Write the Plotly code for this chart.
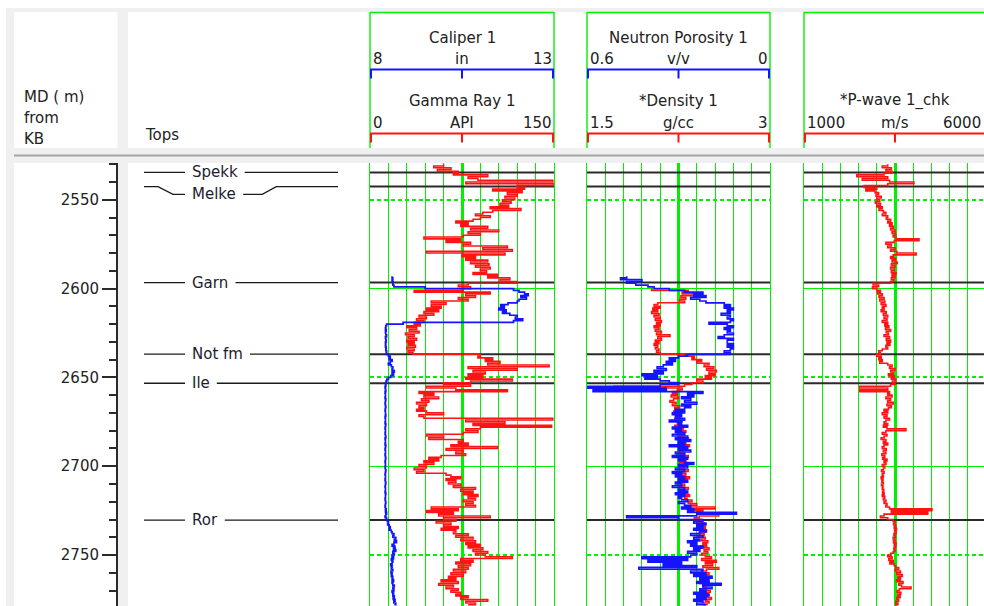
import plotly.graph_objects as go

# ---------------- data ----------------
depth_m = [
    2530, 2531, 2532, 2533, 2534, 2535, 2536, 2537, 2538, 2539,
    2540, 2541, 2542, 2543, 2544, 2545, 2546, 2547, 2548, 2549,
    2550, 2551, 2552, 2553, 2554, 2555, 2556, 2557, 2558, 2559,
    2560, 2561, 2562, 2563, 2564, 2565, 2566, 2567, 2568, 2569,
    2570, 2571, 2572, 2573, 2574, 2575, 2576, 2577, 2578, 2579,
    2580, 2581, 2582, 2583, 2584, 2585, 2586, 2587, 2588, 2589,
    2590, 2591, 2592, 2593, 2594, 2595, 2596, 2597, 2598, 2599,
    2600, 2601, 2602, 2603, 2604, 2605, 2606, 2607, 2608, 2609,
    2610, 2611, 2612, 2613, 2614, 2615, 2616, 2617, 2618, 2619,
    2620, 2621, 2622, 2623, 2624, 2625, 2626, 2627, 2628, 2629,
    2630, 2631, 2632, 2633, 2634, 2635, 2636, 2637, 2638, 2639,
    2640, 2641, 2642, 2643, 2644, 2645, 2646, 2647, 2648, 2649,
    2650, 2651, 2652, 2653, 2654, 2655, 2656, 2657, 2658, 2659,
    2660, 2661, 2662, 2663, 2664, 2665, 2666, 2667, 2668, 2669,
    2670, 2671, 2672, 2673, 2674, 2675, 2676, 2677, 2678, 2679,
    2680, 2681, 2682, 2683, 2684, 2685, 2686, 2687, 2688, 2689,
    2690, 2691, 2692, 2693, 2694, 2695, 2696, 2697, 2698, 2699,
    2700, 2701, 2702, 2703, 2704, 2705, 2706, 2707, 2708, 2709,
    2710, 2711, 2712, 2713, 2714, 2715, 2716, 2717, 2718, 2719,
    2720, 2721, 2722, 2723, 2724, 2725, 2726, 2727, 2728, 2729,
    2730, 2731, 2732, 2733, 2734, 2735, 2736, 2737, 2738, 2739,
    2740, 2741, 2742, 2743, 2744, 2745, 2746, 2747, 2748, 2749,
    2750, 2751, 2752, 2753, 2754, 2755, 2756, 2757, 2758, 2759,
    2760, 2761, 2762, 2763, 2764, 2765, 2766, 2767, 2768, 2769,
    2770, 2771, 2772, 2773, 2774, 2775, 2776, 2777, 2778,
]

gr_api = [
    60, 52, 66, 55, 72, 68, 96, 80, 88, 149,
    78, 150, 120, 126, 100, 124, 112, 120, 110, 118,
    108, 115, 106, 113, 98, 123, 100, 92, 86, 98,
    90, 84, 70, 80, 74, 96, 82, 105, 80, 90,
    76, 44, 74, 62, 82, 76, 112, 92, 116, 46,
    110, 75, 86, 78, 96, 82, 97, 86, 98, 90,
    95, 84, 104, 96, 114, 106, 120, 80, 72, 82,
    76, 36, 98, 78, 86, 72, 80, 50, 62, 50,
    58, 46, 56, 44, 52, 40, 46, 38, 44, 36,
    41, 30, 38, 32, 40, 29, 36, 31, 38, 30,
    36, 31, 37, 30, 36, 31, 35, 90, 88, 100,
    94, 106, 96, 146, 80, 120, 84, 94, 80, 92,
    78, 116, 82, 60, 82, 46, 70, 112, 40, 52,
    44, 56, 42, 48, 38, 46, 40, 44, 38, 46,
    60, 40, 44, 149, 78, 110, 84, 148, 90, 78,
    88, 76, 46, 60, 48, 76, 72, 80, 66, 104,
    62, 76, 70, 78, 58, 48, 56, 44, 52, 40,
    46, 36, 44, 38, 62, 66, 74, 62, 70, 64,
    74, 68, 86, 74, 84, 76, 88, 80, 86, 76,
    84, 78, 86, 50, 72, 46, 68, 56, 98, 60,
    70, 54, 66, 60, 72, 58, 70, 68, 80, 70,
    84, 74, 86, 78, 90, 80, 92, 84, 96, 86,
    94, 116, 74, 84, 70, 82, 72, 80, 68, 78,
    66, 76, 64, 70, 58, 72, 56, 68, 62, 72,
    66, 74, 70, 80, 74, 96, 78, 86, 80,
]

cal_in = [None] * 63 + [
    8.6, 8.62, 8.6, 8.63, 8.62, 8.65, 9.5,
    11.9, 12.05, 12.2, 12.3, 12.1, 12.25, 12.05, 12.0, 11.75, 11.55,
    11.65, 11.5, 11.7, 11.6, 11.8, 12.0, 11.95, 12.15, 11.9, 8.9,
    8.45, 8.43, 8.42, 8.44, 8.42, 8.43, 8.45, 8.42, 8.43, 8.44,
    8.42, 8.43, 8.42, 8.44, 8.43, 8.45, 8.44, 8.5, 8.55, 8.52,
    8.6, 8.55, 8.5, 8.58, 8.62, 8.6, 8.66, 8.6, 8.64, 8.56,
    8.5, 8.46, 8.44, 8.42, 8.43, 8.41, 8.42, 8.43, 8.41, 8.42,
    8.42, 8.41, 8.43, 8.42, 8.41, 8.42, 8.43, 8.42, 8.41, 8.42,
    8.42, 8.43, 8.41, 8.42, 8.42, 8.41, 8.43, 8.42, 8.41, 8.42,
    8.42, 8.41, 8.42, 8.43, 8.41, 8.42, 8.42, 8.41, 8.43, 8.42,
    8.41, 8.42, 8.42, 8.41, 8.42, 8.43, 8.42, 8.41, 8.42, 8.42,
    8.41, 8.42, 8.43, 8.42, 8.41, 8.42, 8.42, 8.41, 8.42, 8.43,
    8.42, 8.41, 8.42, 8.42, 8.41, 8.43, 8.42, 8.42, 8.41, 8.42,
    8.43, 8.42, 8.41, 8.42, 8.44, 8.42, 8.45, 8.43, 8.41, 8.45,
    8.47, 8.5, 8.48, 8.52, 8.55, 8.52, 8.58, 8.6, 8.65, 8.62,
    8.7, 8.66, 8.72, 8.65, 8.6, 8.68, 8.64, 8.7, 8.62, 8.66,
    8.6, 8.64, 8.58, 8.62, 8.6, 8.56, 8.6, 8.58, 8.62, 8.57,
    8.6, 8.58, 8.62, 8.6, 8.64, 8.6, 8.62, 8.66, 8.62, 8.65,
    8.6, 8.64, 8.62, 8.66, 8.63, 8.68, 8.65, 8.7, 8.66,
]

nphi_vv = [None] * 63 + [
    0.47, 0.49, 0.42, 0.47, 0.44, 0.40, 0.38,
    0.33, 0.28, 0.22, 0.25, 0.21, 0.26, 0.23, 0.21, 0.15, 0.13,
    0.15, 0.12, 0.14, 0.13, 0.16, 0.13, 0.14, 0.12, 0.13, 0.20,
    0.14, 0.12, 0.15, 0.13, 0.14, 0.12, 0.15, 0.17, 0.12, 0.14,
    0.14, 0.12, 0.14, 0.12, 0.13, 0.15, 0.13, 0.27, 0.30, 0.33,
    0.31, 0.34, 0.32, 0.35, 0.37, 0.34, 0.38, 0.35, 0.42, 0.37,
    0.41, 0.36, 0.33, 0.30, 0.36, 0.60, 0.34, 0.58, 0.22, 0.27,
    0.25, 0.29, 0.26, 0.28, 0.24, 0.29, 0.26, 0.28, 0.31, 0.28,
    0.32, 0.29, 0.31, 0.28, 0.33, 0.29, 0.30, 0.27, 0.32, 0.29,
    0.31, 0.28, 0.32, 0.27, 0.31, 0.26, 0.30, 0.28, 0.33, 0.27,
    0.30, 0.26, 0.31, 0.28, 0.32, 0.27, 0.30, 0.28, 0.25, 0.30,
    0.27, 0.31, 0.28, 0.32, 0.29, 0.31, 0.28, 0.30, 0.27, 0.31,
    0.29, 0.32, 0.28, 0.30, 0.27, 0.31, 0.28, 0.30, 0.29, 0.27,
    0.30, 0.28, 0.26, 0.29, 0.25, 0.27, 0.11, 0.24, 0.47, 0.30,
    0.22, 0.25, 0.21, 0.24, 0.22, 0.25, 0.21, 0.23, 0.26, 0.22,
    0.25, 0.23, 0.27, 0.24, 0.26, 0.22, 0.25, 0.23, 0.27, 0.24,
    0.26, 0.42, 0.27, 0.40, 0.29, 0.35, 0.24, 0.43, 0.22, 0.26,
    0.21, 0.25, 0.19, 0.23, 0.20, 0.24, 0.16, 0.22, 0.19, 0.23,
    0.21, 0.25, 0.20, 0.24, 0.21, 0.25, 0.22, 0.24, 0.21,
]

rhob_gcc = [None] * 70 + [
    2.03, 2.33, 2.28, 2.42, 2.27, 2.31, 2.26, 2.30, 2.08, 2.05,
    2.10, 2.04, 2.08, 2.03, 2.09, 2.05, 2.10, 2.06, 2.11, 2.07,
    2.10, 2.05, 2.09, 2.06, 2.11, 2.07, 2.18, 2.08, 2.11, 2.06,
    2.09, 2.05, 2.08, 2.06, 2.09, 2.07, 2.10, 2.30, 2.38, 2.36,
    2.44, 2.40, 2.50, 2.46, 2.54, 2.48, 2.56, 2.50, 2.55, 2.47,
    2.52, 2.40, 2.45, 2.36, 2.30, 1.72, 2.28, 2.24, 2.20, 2.24,
    2.19, 2.25, 2.21, 2.18, 2.23, 2.20, 2.26, 2.22, 2.25, 2.21,
    2.27, 2.23, 2.26, 2.22, 2.28, 2.24, 2.27, 2.22, 2.29, 2.25,
    2.31, 2.24, 2.30, 2.26, 2.33, 2.27, 2.31, 2.25, 2.34, 2.28,
    2.32, 2.26, 2.30, 2.27, 2.33, 2.28, 2.31, 2.26, 2.32, 2.28,
    2.30, 2.26, 2.33, 2.28, 2.31, 2.27, 2.34, 2.29, 2.32, 2.27,
    2.30, 2.26, 2.33, 2.29, 2.31, 2.28, 2.34, 2.30, 2.32, 2.36,
    2.33, 2.40, 2.35, 2.55, 2.38, 2.45, 2.40, 2.58, 2.42, 2.38,
    2.44, 2.40, 2.46, 2.41, 2.47, 2.43, 2.48, 2.42, 2.46, 2.41,
    2.47, 2.44, 2.49, 2.45, 2.48, 2.43, 2.50, 2.46, 2.49, 2.44,
    2.47, 2.52, 2.44, 2.56, 2.47, 2.53, 2.45, 2.58, 2.48, 2.44,
    2.50, 2.46, 2.52, 2.45, 2.49, 2.43, 2.50, 2.45, 2.48, 2.44,
    2.51, 2.46, 2.49, 2.45, 2.52, 2.47, 2.50, 2.46, 2.49,
]

vp_ms = [
    3300, 3150, 3400, 3250, 3420, 3200, 2450, 3300, 2600, 3350,
    4020, 3300, 2650, 3000, 2700, 2950, 3050, 2980, 3120, 3000,
    3080, 2960, 3100, 3000, 3150, 3060, 3180, 3250, 3150, 3300,
    3260, 3380, 3300, 3420, 3350, 3450, 3380, 3500, 3420, 3520,
    3450, 3530, 4160, 3480, 3250, 3400, 3300, 3500, 3380, 3550,
    4080, 3450, 3380, 3520, 3420, 3560, 3400, 3500, 3380, 3480,
    3400, 3530, 3420, 3500, 3400, 3470, 3380, 2900, 3050, 2880,
    3000, 3100, 3020, 3150, 3060, 3200, 3080, 3220, 3120, 3250,
    3150, 3200, 3120, 3260, 3180, 3300, 3200, 3280, 3150, 3300,
    3220, 3330, 3240, 3380, 3260, 3320, 3200, 3350, 3260, 3380,
    3280, 3360, 3250, 3300, 3150, 3050, 3100, 3000, 3120, 3050,
    3150, 3080, 3300, 3420, 3350, 3500, 3380, 3450, 3320, 3480,
    3400, 3520, 3430, 3500, 3380, 2530, 3300, 2530, 3350, 3300,
    3420, 3250, 3380, 3300, 3450, 3280, 3400, 3320, 3200, 3300,
    3150, 3280, 3200, 3350, 3250, 3200, 3300, 3180, 3280, 3800,
    3250, 3150, 3280, 3200, 3120, 3250, 3180, 3300, 3200, 3150,
    3260, 3180, 3250, 3140, 3220, 3160, 3280, 3200, 3250, 3150,
    3220, 3180, 3130, 3200, 3150, 3180, 3120, 3170, 3140, 3180,
    3130, 3170, 3150, 3190, 3160, 3200, 3150, 3220, 3180, 3250,
    3200, 3280, 3250, 3350, 4515, 3400, 4400, 3200, 3100, 3300,
    3450, 3500, 3460, 3520, 3480, 3540, 3490, 3530, 3470, 3510,
    3450, 3500, 3460, 3530, 3480, 3520, 3470, 3500, 3450, 3380,
    3300, 3420, 3330, 3450, 3360, 3480, 3520, 3600, 3500, 3650,
    3550, 3700, 3580, 3650, 3540, 3720, 3600, 3680, 3940, 3620,
    3560, 3660, 3580, 3640, 3550, 3600, 3520, 3580, 3500,
]

tops_names = ["Spekk", "Melke", "Garn", "Not fm", "Ile", "Ror"]
tops_md = [2534.6, 2542.6, 2596.6, 2636.9, 2653.3, 2730.3]

curve_titles = ["Caliper 1", "Gamma Ray 1", "Neutron Porosity 1", "*Density 1", "*P-wave 1_chk"]
curve_units = ["in", "API", "v/v", "g/cc", "m/s"]
curve_min = [8, 0, 0.6, 1.5, 1000]
curve_max = [13, 150, 0, 3, 6000]

depth_header_lines = ["MD ( m)", "from", "KB"]
tops_header = "Tops"
depth_label_step = 50
depth_minor_step = 10
grid_solid_md = [2600, 2700]
grid_dash_md = [2550, 2650, 2750]
grid_divisions = 10

# ---------------- layout helpers ----------------
W, H = 984, 606
FONT = "DejaVu Sans"
TXT = "#222222"
GREEN = "#00f000"
RED = "#ff1414"
BLUE = "#1414ff"
BLACK = "#2a2a2a"

def px(x):
    return x / W

def py(y):
    return 1 - y / H

LOG_TOP = 163
DEPTH_RANGE = [2778.7, 2529.3]
PX_PER_M = (H - LOG_TOP) / (DEPTH_RANGE[0] - DEPTH_RANGE[1])
TRACKS = [(370, 554), (587, 770), (804, 986)]
curve_track = [0, 0, 1, 1, 2]
curve_row = [0, 1, 0, 1, 1]
curve_color = [BLUE, RED, BLUE, RED, RED]

ROW_TITLE_Y = [38, 101]
ROW_SCALE_Y = [59, 123]
ROW_LINE_Y = [69.5, 133.5]

CHAR_EM = {'S': .635, 'p': .635, 'e': .615, 'k': .579, 'M': .863, 'l': .278,
           'G': .775, 'a': .613, 'r': .411, 'n': .634, 'N': .748, 'o': .612,
           't': .392, ' ': .318, 'f': .352, 'm': .974, 'I': .295, 'R': .695}

def text_w(s, size=15):
    return sum(CHAR_EM.get(c, .6) for c in s) * size

t3x0, t3x1 = TRACKS[2]
vp_hi = curve_min[4] + (curve_max[4] - curve_min[4]) * (W - t3x0) / (t3x1 - t3x0)
vp_range = [curve_min[4], vp_hi]
vp_center = (curve_min[4] + curve_max[4]) / 2

fig = go.Figure()

def dummy(xa, ya):
    fig.add_trace(go.Scatter(x=[None], y=[None], xaxis=xa, yaxis=ya,
                             showlegend=False, hoverinfo="skip"))

# depth track anchor (empty) and dashed-grid overlay axes
dummy("x", "y")
dummy("x2", "y6")
dummy("x4", "y7")
dummy("x6", "y8")

# tops lines across the log tracks (drawn first, under curves)
track_axes = [("x2", "y2", [curve_min[1], curve_max[1]]),
              ("x4", "y3", [curve_min[3], curve_max[3]]),
              ("x6", "y4", vp_range)]
for md in tops_md:
    for xa, ya, rng in track_axes:
        fig.add_trace(go.Scatter(x=rng, y=[md, md], xaxis=xa, yaxis=ya, mode="lines",
                                 line=dict(color=BLACK, width=2),
                                 showlegend=False, hoverinfo="skip"))

# curves
line_kw = dict(mode="lines", line_shape="vh", showlegend=False, hoverinfo="skip")
fig.add_trace(go.Scatter(x=gr_api, y=depth_m, xaxis="x2", yaxis="y2",
                         line=dict(color=RED, width=1.6), **line_kw))
fig.add_trace(go.Scatter(x=cal_in, y=depth_m, xaxis="x3", yaxis="y2",
                         line=dict(color=BLUE, width=1.7), **line_kw))
fig.add_trace(go.Scatter(x=rhob_gcc, y=depth_m, xaxis="x4", yaxis="y3",
                         line=dict(color=RED, width=1.6), **line_kw))
fig.add_trace(go.Scatter(x=nphi_vv, y=depth_m, xaxis="x5", yaxis="y3",
                         line=dict(color=BLUE, width=1.7), **line_kw))
fig.add_trace(go.Scatter(x=vp_ms, y=depth_m, xaxis="x6", yaxis="y4",
                         line=dict(color=RED, width=1.6), **line_kw))
dummy("x7", "y4")

# tops track (x8 in pixel-like layout units)
annotations = []
shapes = []
min_gap_m = 22 / PX_PER_M
prev_lab = None
for name, md in zip(tops_names, tops_md):
    lab = md if prev_lab is None else max(md, prev_lab + min_gap_m)
    prev_lab = lab
    label_x = 190
    re = label_x + text_w(name)
    if abs(lab - md) < 1e-6:
        xs_l, ys_l = [144, 185], [md, md]
        xs_r, ys_r = [re + 9, 338], [md, md]
    else:
        xs_l, ys_l = [144, 158, 173, 185], [md, md, lab, lab]
        xs_r, ys_r = [re + 9, re + 28, re + 42, 338], [lab, lab, md, md]
    for xs, ys in ((xs_l, ys_l), (xs_r, ys_r)):
        fig.add_trace(go.Scatter(x=xs, y=ys, xaxis="x8", yaxis="y5", mode="lines",
                                 line=dict(color="#1a1a1a", width=1.3),
                                 showlegend=False, hoverinfo="skip"))
    annotations.append(dict(x=label_x, y=lab, xref="x8", yref="y5", text=name,
                            xanchor="left", yanchor="middle", showarrow=False,
                            font=dict(family=FONT, size=15, color="#1c1c30")))

# backgrounds
def prect(x0, y0, x1, y1, color):
    return dict(type="rect", xref="paper", yref="paper", x0=px(x0), x1=px(x1),
                y0=py(y1), y1=py(y0), fillcolor=color, line=dict(width=0), layer="below")

shapes += [
    prect(6, 8, W, H, "#f0f0f0"),
    prect(14, 12, 117.5, 148, "white"),
    prect(128, 12, W, 148, "white"),
    prect(14, 163, 117.5, H, "white"),
    prect(128, 163, W, H, "white"),
    dict(type="line", xref="paper", yref="paper", x0=px(14), x1=1, y0=py(155.5), y1=py(155.5),
         line=dict(color="#a4a4a4", width=2), layer="below"),
]

def pline(x0, y0, x1, y1, color, width):
    return dict(type="line", xref="paper", yref="paper", x0=px(x0), x1=px(x1),
                y0=py(y0), y1=py(y1), line=dict(color=color, width=width))

# header frames
for (x0, x1) in TRACKS:
    shapes.append(pline(x0, 12.5, min(x1, W), 12.5, GREEN, 1.4))
    shapes.append(pline(x0, 12, x0, 148, GREEN, 1.4))
    if x1 <= W:
        shapes.append(pline(x1, 12, x1, 148, GREEN, 1.4))

# curve headers
hfont = dict(family=FONT, size=15, color=TXT)
for i in range(len(curve_titles)):
    x0, x1 = TRACKS[curve_track[i]]
    xc = (x0 + x1) / 2
    r = curve_row[i]
    col = curve_color[i]
    ly = ROW_LINE_Y[r]
    annotations.append(dict(x=px(xc), y=py(ROW_TITLE_Y[r]), xref="paper", yref="paper",
                            text=curve_titles[i], showarrow=False, xanchor="center",
                            yanchor="middle", font=hfont))
    annotations.append(dict(x=px(x0 + 0.5), y=py(ROW_SCALE_Y[r]), xref="paper", yref="paper",
                            text=f"{curve_min[i]:g}", showarrow=False, xanchor="left",
                            yanchor="middle", font=hfont))
    annotations.append(dict(x=px(xc), y=py(ROW_SCALE_Y[r]), xref="paper", yref="paper",
                            text=curve_units[i], showarrow=False, xanchor="center",
                            yanchor="middle", font=hfont))
    annotations.append(dict(x=px(min(x1 - 0.5, W - 1)), y=py(ROW_SCALE_Y[r]), xref="paper",
                            yref="paper", text=f"{curve_max[i]:g}", showarrow=False,
                            xanchor="right", yanchor="middle", font=hfont))
    shapes.append(pline(x0, ly, min(x1, W), ly, col, 2))
    for tx in (x0 + 1, xc, x1 - 1):
        if tx <= W:
            shapes.append(pline(tx, ly, tx, ly + 9, col, 2))

# depth header / tops header text
for k, t in enumerate(depth_header_lines):
    annotations.append(dict(x=px(22), y=py(97 + 21 * k), xref="paper", yref="paper", text=t,
                            showarrow=False, xanchor="left", yanchor="middle", font=hfont))
annotations.append(dict(x=px(143), y=py(135), xref="paper", yref="paper", text=tops_header,
                        showarrow=False, xanchor="left", yanchor="middle", font=hfont))

# ---------------- axes ----------------
def track_y(anchor, mirror=True):
    return dict(domain=[0, py(LOG_TOP)], range=DEPTH_RANGE, anchor=anchor,
                tickmode="array", tickvals=grid_solid_md, showticklabels=False, ticks="",
                showgrid=True, gridcolor=GREEN, gridwidth=1.4,
                zeroline=False, showline=True, mirror=mirror, linecolor=GREEN, linewidth=1.4,
                fixedrange=True)

def dash_y(over, anchor):
    return dict(overlaying=over, range=DEPTH_RANGE, anchor=anchor,
                tickmode="array", tickvals=grid_dash_md, showticklabels=False, ticks="",
                showgrid=True, gridcolor=GREEN, gridwidth=1.5, griddash="4px,3px",
                zeroline=False, showline=False, fixedrange=True)

def track_x(domain, rng, n_div, anchor):
    lo, hi = rng
    step = (hi - lo) / n_div
    vals = [lo + k * step for k in range(n_div + 1)]
    return dict(domain=domain, range=rng, anchor=anchor, tickmode="array", tickvals=vals,
                showgrid=True, gridcolor=GREEN, gridwidth=1.4,
                showticklabels=False, ticks="", zeroline=False, showline=False, fixedrange=True)

def center_x(over, rng, anchor):
    return dict(overlaying=over, range=rng, anchor=anchor, tickmode="array",
                tickvals=[(rng[0] + rng[1]) / 2], showgrid=True, gridcolor=GREEN, gridwidth=2.6,
                showticklabels=False, ticks="", zeroline=False, showline=False, fixedrange=True)

fig.update_layout(
    width=W, height=H, margin=dict(l=0, r=0, t=0, b=0),
    paper_bgcolor="white", plot_bgcolor="rgba(0,0,0,0)",
    showlegend=False, hovermode=False,
    xaxis=dict(domain=[px(14), px(117.5)], range=[0, 1], visible=False, anchor="y",
               fixedrange=True),
    yaxis=dict(domain=[0, py(LOG_TOP)], range=DEPTH_RANGE, anchor="free", position=px(117),
               side="left", showline=True, linecolor=BLACK, linewidth=2,
               ticks="outside", ticklen=14, tickwidth=2, tickcolor=BLACK,
               tickmode="linear", tick0=2550, dtick=depth_label_step,
               tickfont=dict(family=FONT, size=15, color=TXT),
               showgrid=False, zeroline=False, fixedrange=True,
               minor=dict(ticks="outside", tickmode="linear", tick0=2530, dtick=depth_minor_step,
                          ticklen=7, tickwidth=2, tickcolor=BLACK, showgrid=False)),
    xaxis2=track_x([px(TRACKS[0][0]), px(TRACKS[0][1])], [curve_min[1], curve_max[1]],
                   grid_divisions, "y2"),
    xaxis3=center_x("x2", [curve_min[0], curve_max[0]], "y2"),
    xaxis4=track_x([px(TRACKS[1][0]), px(TRACKS[1][1])], [curve_min[3], curve_max[3]],
                   grid_divisions, "y3"),
    xaxis5=center_x("x4", [curve_min[2], curve_max[2]], "y3"),
    xaxis6=dict(track_x([px(t3x0), 1.0], [curve_min[4], curve_max[4]], grid_divisions, "y4"),
                range=vp_range),
    xaxis7=dict(overlaying="x6", range=vp_range, anchor="y4", tickmode="array",
                tickvals=[vp_center], showgrid=True, gridcolor=GREEN, gridwidth=2.6,
                showticklabels=False, ticks="", zeroline=False, showline=False, fixedrange=True),
    xaxis8=dict(domain=[px(128), px(370)], range=[128, 370], visible=False, anchor="y5",
                fixedrange=True),
    yaxis2=track_y("x2"),
    yaxis3=track_y("x4"),
    yaxis4=track_y("x6", mirror=False),
    yaxis5=dict(domain=[0, py(LOG_TOP)], range=DEPTH_RANGE, visible=False, anchor="x8",
                fixedrange=True),
    yaxis6=dash_y("y2", "x2"),
    yaxis7=dash_y("y3", "x4"),
    yaxis8=dash_y("y4", "x6"),
    shapes=shapes,
    annotations=annotations,
)

fig.write_html("out.html", config={"displayModeBar": False},
               post_script="document.body.style.margin='0px';")
